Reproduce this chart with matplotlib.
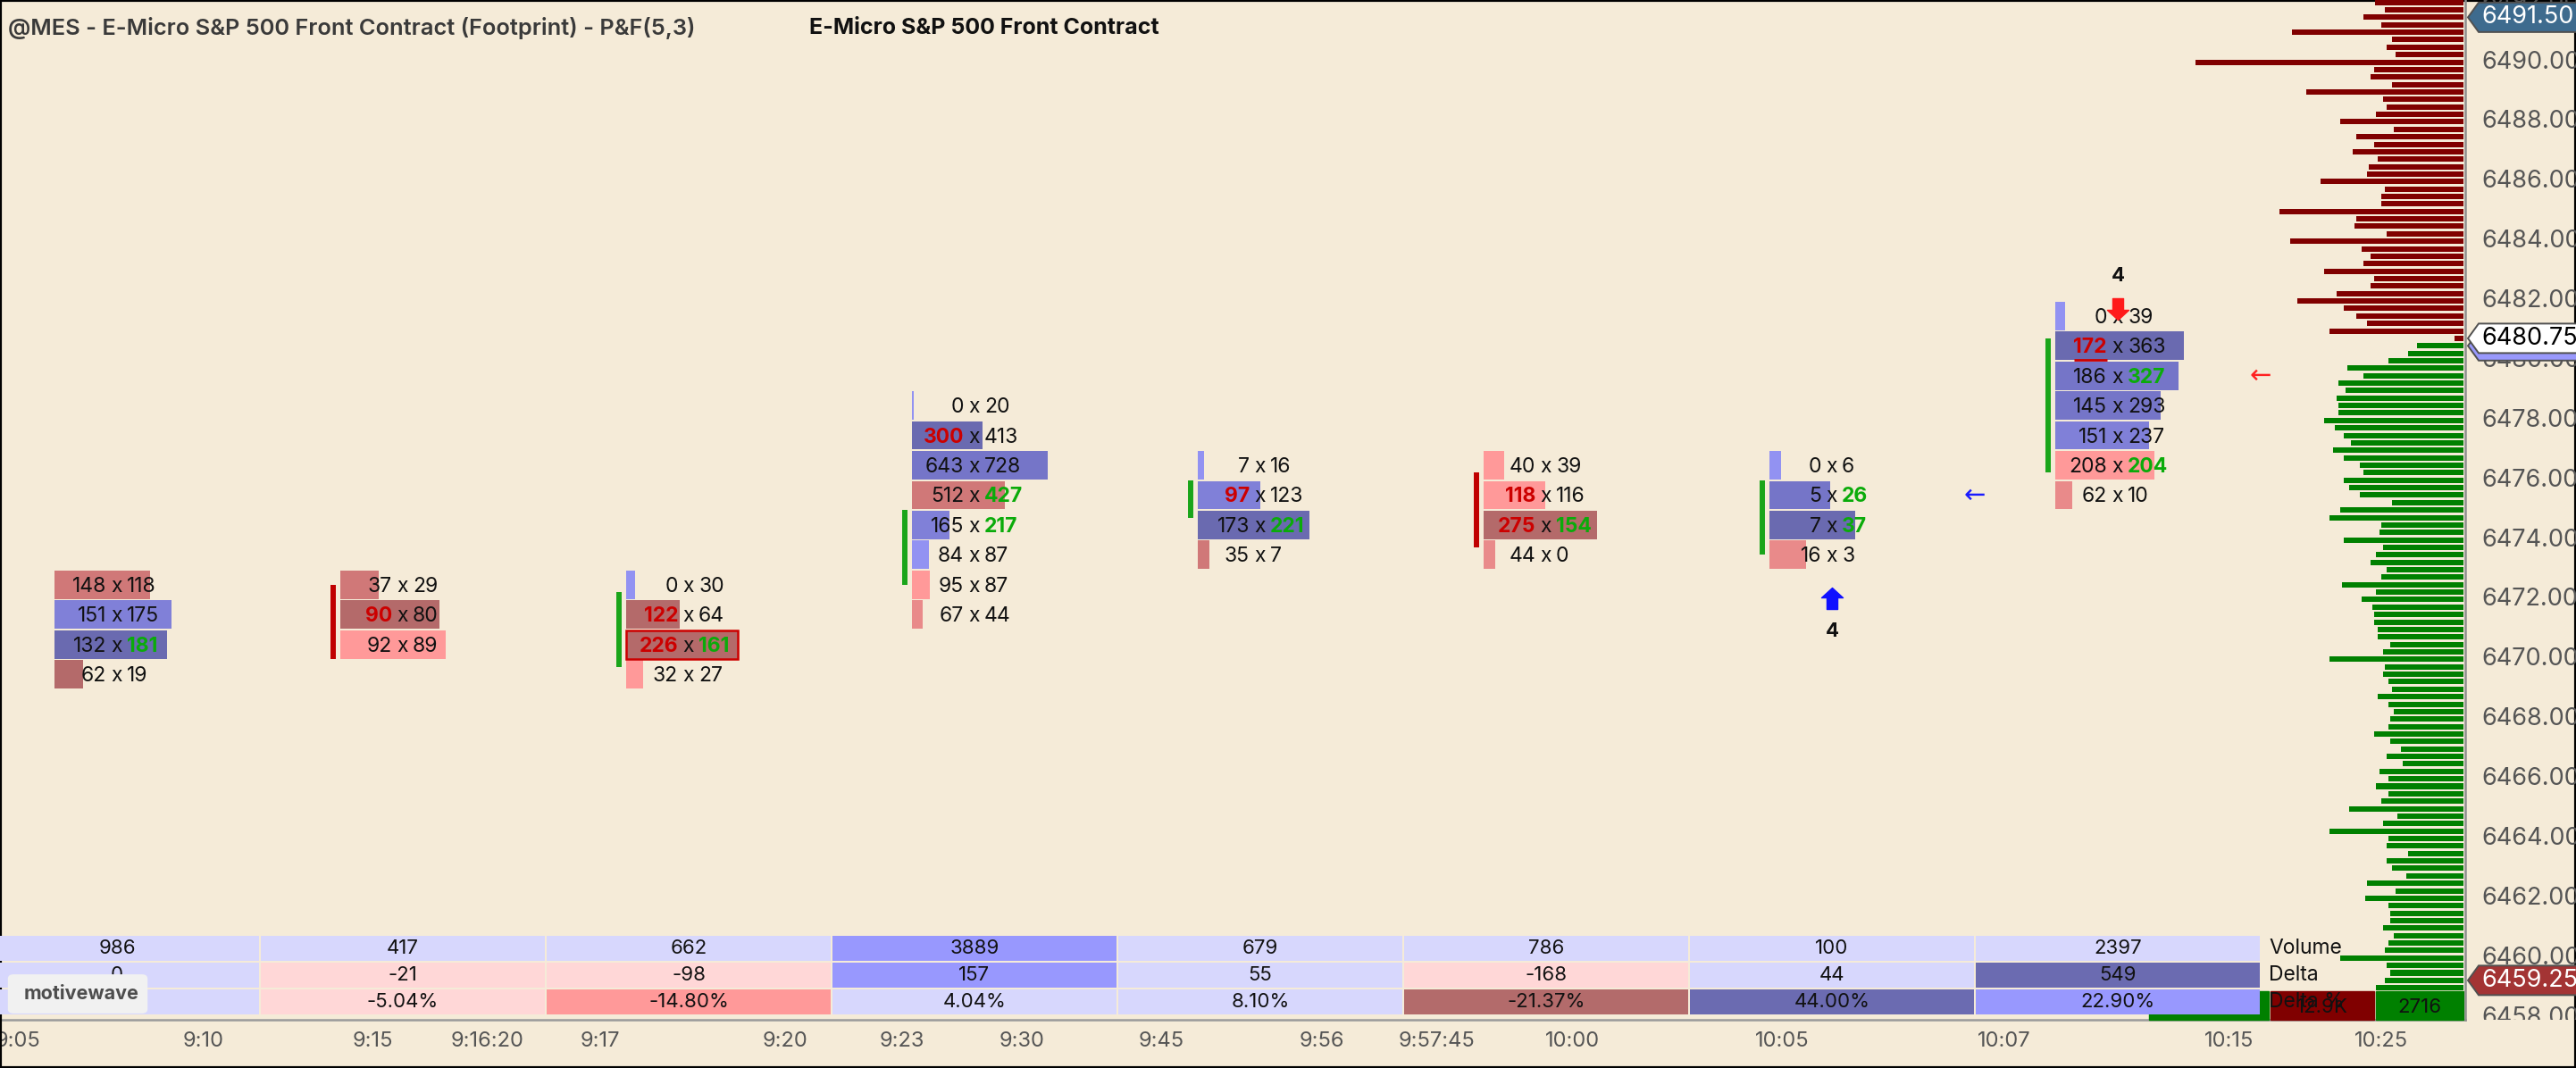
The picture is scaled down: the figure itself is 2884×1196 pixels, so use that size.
import numpy as np
import matplotlib.pyplot as plt
from matplotlib.patches import Rectangle, Polygon, FancyBboxPatch
from matplotlib.path import Path
from matplotlib.transforms import blended_transform_factory

plt.rcParams['font.family'] = ['Inter', 'DejaVu Sans']

W, H, DPI = 2884, 1196, 100
SLOT = 320.0          # pixels per P&F column
BG = '#f5ebd8'

# ---------------- data ----------------
col_top = [6472.5, 6472.5, 6472.5, 6478.5, 6476.5, 6476.5, 6476.5, 6481.5]
bids = [[148, 151, 132, 62],
        [37, 90, 92],
        [0, 122, 226, 32],
        [0, 300, 643, 512, 165, 84, 95, 67],
        [7, 97, 173, 35],
        [40, 118, 275, 44],
        [0, 5, 7, 16],
        [0, 172, 186, 145, 151, 208, 62]]
asks = [[118, 175, 181, 19],
        [29, 80, 89],
        [30, 64, 161, 27],
        [20, 413, 728, 427, 217, 87, 87, 44],
        [16, 123, 221, 7],
        [39, 116, 154, 0],
        [6, 26, 37, 3],
        [39, 363, 327, 293, 237, 204, 10]]
body_open = [None, 6472.5, 6469.75, 6472.5, 6474.75, 6476.25, 6473.5, 6476.25]
body_close = [None, 6470.0, 6472.25, 6475.0, 6476.0, 6473.75, 6476.0, 6480.75]
last_price = 6480.75

signal_cols = [6, 7]
signal_dirs = ['up', 'down']
signal_text = ['4', '4']
small_arrows = [(7, 6475.5, '#1a1aff'), (8, 6479.5, '#ff2020')]

time_pos = [0.153, 0.803, 1.394, 1.794, 2.191, 2.838, 3.247, 3.666,
            4.153, 4.716, 5.116, 5.591, 6.325, 7.103, 7.888, 8.422]
time_lbl = ['9:05', '9:10', '9:15', '9:16:20', '9:17', '9:20', '9:23', '9:30',
            '9:45', '9:56', '9:57:45', '10:00', '10:05', '10:07', '10:15', '10:25']

profile_top = 6492.0
vol_above = [99, 88, 112, 92, 192, 80, 86, 76, 300, 100,
             104, 80, 176, 90, 86, 98, 138, 78, 120, 100,
             124, 96, 106, 108, 160, 88, 92, 92, 206, 120,
             122, 86, 194, 114, 104, 112, 156, 100, 104, 142,
             186, 134, 120, 108, 150, 10]
vol_below = [52, 62, 84, 130, 112, 140, 132, 142, 140, 140, 156, 144,
             134, 126, 146, 134, 116, 112, 134, 128, 116, 80,
             138, 150, 92, 94, 134, 90, 98, 104, 86, 92,
             136, 98, 114, 102, 100, 100, 96, 96, 82, 90,
             150, 88, 90, 84, 80, 96, 84, 78,
             82, 84, 100, 82, 70, 86, 68, 94, 84, 98,
             84, 92, 128, 74, 90, 150, 84, 86, 62, 86,
             80, 64, 108, 76, 110, 84, 82, 82, 90, 78,
             84, 88, 138, 86, 82, 88, 98]
summary_lbl = ['15.6K', '12.9K', '2716']

tick_prices = np.arange(6458, 6493, 2)
# (price, fill, text colour); text colour None = label hidden behind the next tag
tags = [(6491.50, '#3e6b8e', 'white'),
        (6459.25, '#a33434', 'white'),
        (6480.50, '#9898fc', None),
        (6480.75, 'white', 'black')]

# ---------------- styles ----------------
PAL = {'B0': '#9292f2', 'B1': '#8080d8', 'B2': '#7575c8', 'B3': '#6a6ab0',
       'R0': '#ff9999', 'R1': '#e98a8a', 'R2': '#d07878', 'R3': '#b46a6a'}
shades = [['R2', 'B1', 'B3', 'R3'],
          ['R2', 'R3', 'R0'],
          ['B0', 'R3', 'R3', 'R0'],
          ['B0', 'B3', 'B2', 'R2', 'B1', 'B0', 'R0', 'R1'],
          ['B0', 'B1', 'B3', 'R2'],
          ['R0', 'R0', 'R3', 'R1'],
          ['B0', 'B2', 'B3', 'R1'],
          ['B0', 'B3', 'B2', 'B2', 'B1', 'R0', 'R1']]
outlined = [(2, 6470.5)]
TPAL = {'L': '#d7d7fd', 'M': '#9898fe', 'D': '#6b6bb1',
        'PL': '#ffd7d7', 'PM': '#ff9999', 'RD': '#b36b6b'}
tab_shades = [['L', 'L', 'L', 'M', 'L', 'L', 'L', 'L'],
              ['L', 'PL', 'PL', 'M', 'L', 'PL', 'L', 'D'],
              ['L', 'PL', 'PM', 'L', 'L', 'RD', 'D', 'M']]
RED_TXT, GRN_TXT = '#cc0000', '#0aab0a'
FS = 16.5

YMAX, YMIN = 6492.08, 6457.93

fig = plt.figure(figsize=(W / DPI, H / DPI), dpi=DPI, facecolor=BG)


def fax(x0, y0, x1, y1, z=0):
    a = fig.add_axes([x0 / W, 1 - y1 / H, (x1 - x0) / W, (y1 - y0) / H])
    a.set_zorder(z)
    return a


# ---------------- main footprint axes ----------------
ax = fax(0, 0, 2760, 1142, 0)
ax.set_facecolor(BG)
ax.set_xlim(29 / SLOT, 2789 / SLOT)
ax.set_ylim(YMIN, YMAX)
for s in ['top', 'right', 'left']:
    ax.spines[s].set_visible(False)
ax.spines['bottom'].set_color('#9a9a9a')
ax.spines['bottom'].set_linewidth(1.8)
ax.set_yticks([])
ax.set_xticks(time_pos)
ax.set_xticklabels(time_lbl, fontsize=17, color='#555555')
ax.tick_params(axis='x', length=0, pad=9)

underline_txt = None
for i in range(len(bids)):
    b = np.array(bids[i])
    a = np.array(asks[i])
    tot = b + a
    prices = col_top[i] - np.arange(len(b))
    maxw = (96 + 35 * np.log10(tot.sum() / 100.0)) / SLOT
    xc = i + 0.5
    left = xc - 70 / SLOT
    widths = tot / tot.max() * maxw
    ax.barh(prices, widths, height=0.95, left=left,
            color=[PAL[s] for s in shades[i]], zorder=2)
    for (ci, cp) in outlined:
        if ci == i:
            k = int(round(col_top[i] - cp))
            ax.add_patch(Rectangle((left, cp - 0.475), widths[k], 0.95, fill=False,
                                   ec='#cc0000', lw=1.8, zorder=3))
    for j, p in enumerate(prices):
        bid_hi = j > 0 and b[j] > 0 and b[j] >= 2 * a[j - 1]
        ask_hi = j < len(b) - 1 and a[j] > 0 and a[j] >= 2 * b[j + 1]
        ax.annotate('x', (xc, p), xytext=(0, -8), textcoords='offset pixels',
                    ha='center', va='baseline', fontsize=FS, color='#111111', zorder=5)
        tb = ax.annotate(str(b[j]), (xc, p), xytext=(-12, -8), textcoords='offset pixels',
                         ha='right', va='baseline', fontsize=FS, zorder=5,
                         color=RED_TXT if bid_hi else '#111111',
                         fontweight='bold' if bid_hi else 'normal')
        ax.annotate(str(a[j]), (xc, p), xytext=(11, -8), textcoords='offset pixels',
                    ha='left', va='baseline', fontsize=FS, zorder=5,
                    color=GRN_TXT if ask_hi else '#111111',
                    fontweight='bold' if ask_hi else 'normal')
        if i == len(bids) - 1 and abs(last_price - p) <= 0.5:
            underline_txt = (tb, p)
    if body_open[i] is not None:
        up = body_close[i] > body_open[i]
        ax.vlines(xc - 78 / SLOT, min(body_open[i], body_close[i]),
                  max(body_open[i], body_close[i]),
                  color='#1aa51a' if up else '#c00000', lw=4.3, zorder=3)

# P&F reversal signals
up_arrow = Path([(0, 1), (1, 0.08), (0.5, 0.08), (0.5, -1), (-0.5, -1), (-0.5, 0.08),
                 (-1, 0.08), (0, 1)], closed=True)
dn_arrow = Path([(x, -y) for x, y in up_arrow.vertices], closed=True)
for c, d, t in zip(signal_cols, signal_dirs, signal_text):
    xc = c + 0.5
    if d == 'up':
        bottom = col_top[c] - (len(bids[c]) - 1) - 0.5
        ax.plot(xc, bottom - 0.95, marker=up_arrow, ms=17.3, color='#1010ff',
                ls='none', zorder=6)
        ax.text(xc, bottom - 2.06, t, ha='center', va='center', fontsize=16,
                fontweight='bold', color='#111111', zorder=6)
    else:
        top = col_top[c] + 0.5
        ax.plot(xc, top - 0.26, marker=dn_arrow, ms=17.3, color='#ff1a1a',
                ls='none', zorder=6)
        ax.text(xc, top + 0.84, t, ha='center', va='center', fontsize=16,
                fontweight='bold', color='#111111', zorder=6)

for (sx, sp, sc) in small_arrows:
    ax.text(sx, sp, '\u2190', ha='center', va='center', fontsize=21, color=sc,
            family=['DejaVu Sans'], zorder=6)

# ---------------- volume profile ----------------
axp = fax(2400, 0, 2758, 1142, 1)
axp.set_xlim(358, 0)
axp.set_ylim(YMIN, YMAX)
axp.axis('off')
pvol = np.array(vol_above + vol_below)
pprice = profile_top - 0.25 * np.arange(len(pvol))
pcol = np.where(pprice >= last_price, '#800000', '#008000')
axp.barh(pprice, pvol, height=0.18, left=0, color=pcol, zorder=2)

btr = blended_transform_factory(axp.transData, axp.transAxes)
sum_spans = [(218, 134, '#008000'), (100, 116, '#800000'), (0, 98, '#008000')]
for (x0, w, c), lbl in zip(sum_spans, summary_lbl):
    axp.add_patch(Rectangle((x0, 0), w, 0.028, transform=btr, color=c, zorder=3,
                            clip_on=False))
    axp.text(x0 + w / 2, 0.012, lbl, transform=btr, ha='center', va='center',
             fontsize=16, color='#111111', zorder=4)

# ---------------- bottom table ----------------
axt = fax(0, 1047, 2760, 1137, 2)
axt.set_xlim(ax.get_xlim())
axt.set_ylim(3, 0)
axt.axis('off')
vols = [sum(b) + sum(a) for b, a in zip(bids, asks)]
deltas = [sum(a) - sum(b) for b, a in zip(bids, asks)]
rows = [[str(v) for v in vols],
        [str(d) for d in deltas],
        ['%.2f%%' % (100.0 * d / v) for d, v in zip(deltas, vols)]]
gx, gy = 1 / SLOT, 1 / 30.0
for r in range(3):
    for i in range(len(vols)):
        axt.add_patch(Rectangle((i + gx, r + gy), 1 - 2 * gx, 1 - 2 * gy,
                                color=TPAL[tab_shades[r][i]], lw=0, zorder=2))
        if r == 2 and i == 0:
            continue      # covered by the watermark
        axt.text(i + 0.5, r + 0.5, rows[r][i], ha='center', va='center',
                 fontsize=16, color='#111111', zorder=3)
for r, lbl in enumerate(['Volume', 'Delta', 'Delta %']):
    axt.text(2540 / SLOT + 29 / SLOT, r + 0.5, lbl, ha='left', va='center',
             fontsize=16.5, color='#111111', zorder=5)
axt.add_patch(FancyBboxPatch((41 / SLOT, 1.55), 150 / SLOT, 1.3,
                             boxstyle='round,pad=0.01,rounding_size=0.02',
                             fc='#f1f1f1', ec='none', zorder=6, mutation_aspect=8))
axt.text(120 / SLOT, 2.2, 'motivewave', ha='center', va='center', fontsize=15.5,
         fontweight='bold', color='#4d4d4d', zorder=7)

# ---------------- price axis ----------------
axr = fax(2760, 0, 2884, 1142, 3)
axr.set_xlim(0, 124)
axr.set_ylim(YMIN, YMAX)
axr.set_facecolor('none')
for s in ['top', 'right', 'bottom']:
    axr.spines[s].set_visible(False)
axr.spines['left'].set_color('#8e8e8e')
axr.spines['left'].set_linewidth(1.8)
axr.set_xticks([])
axr.set_yticks([])
for p in tick_prices:
    axr.text(18, p, '%.2f' % p, ha='left', va='center', fontsize=19.5,
             color='#555555', clip_on=True, zorder=2)
half = 16.5 / 33.44
for k, (tp, fc, tc) in enumerate(tags):
    poly = Polygon([(3, tp), (15, tp + half), (130, tp + half), (130, tp - half),
                    (15, tp - half)], closed=True, fc=fc, ec='#505050', lw=1.4,
                   zorder=4 + k, clip_on=False)
    axr.add_patch(poly)
    if tc is not None:
        axr.text(18, tp, '%.2f' % tp, ha='left', va='center', fontsize=19.5,
                 color=tc, zorder=4 + k + 0.5)

# ---------------- titles / frame ----------------
fig.text(9 / W, 1 - 31 / H, '@MES - E-Micro S&P 500 Front Contract (Footprint) - P&F(5,3)',
         fontsize=18.3, fontweight='semibold', color='#3a3a3a', va='center')
fig.text(906 / W, 1 - 31 / H, 'E-Micro S&P 500 Front Contract',
         fontsize=18, fontweight='bold', color='#111111', va='center')
fig.add_artist(Rectangle((0, 0), 1, 1, transform=fig.transFigure, fill=False,
                         lw=3, ec='black'))

# underline on the last price row of the last column
fig.canvas.draw()
if underline_txt is not None:
    t, p = underline_txt
    bb = t.get_window_extent()
    inv = ax.transData.inverted()
    (x0, _), (x1, _) = inv.transform([(bb.x0, 0), (bb.x1, 0)])
    ax.plot([x0, x1], [p - 0.46, p - 0.46], color=RED_TXT, lw=2, zorder=6,
            solid_capstyle='butt')

fig.savefig('out.png', dpi=DPI, facecolor=BG)
